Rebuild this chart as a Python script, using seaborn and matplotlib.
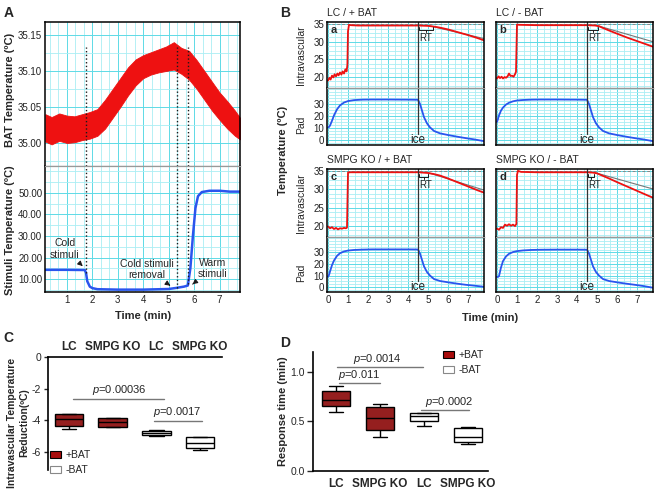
import numpy as np
import pandas as pd
import matplotlib
matplotlib.use('Agg')
import matplotlib.pyplot as plt
import seaborn as sns
from matplotlib.ticker import MultipleLocator, FormatStrFormatter
from matplotlib.patches import Patch

# ---------------- panel A: BAT temperature band and stimuli trace ----------------
bat_t = [0.15, 0.4, 0.7, 1.0, 1.3, 1.6, 1.9, 2.2, 2.5, 2.8, 3.1, 3.4, 3.7, 4.0,
         4.3, 4.6, 4.9, 5.2, 5.5, 5.8, 6.1, 6.4, 6.7, 7.0, 7.3, 7.6, 7.8]
bat_hi = [35.040, 35.036, 35.041, 35.038, 35.037, 35.040, 35.043, 35.047, 35.060,
          35.075, 35.090, 35.105, 35.116, 35.122, 35.126, 35.130, 35.134, 35.140,
          35.132, 35.128, 35.115, 35.100, 35.085, 35.070, 35.058, 35.045, 35.035]
bat_lo = [35.002, 34.998, 35.003, 35.000, 35.001, 35.004, 35.006, 35.010, 35.020,
          35.035, 35.050, 35.066, 35.080, 35.090, 35.095, 35.098, 35.100, 35.102,
          35.096, 35.088, 35.075, 35.060, 35.045, 35.032, 35.020, 35.010, 35.005]
stim_t = [0.15, 1.0, 1.7, 1.75, 1.8, 1.9, 2.0, 2.2, 3.0, 4.0, 5.0, 5.3, 5.6, 5.75,
          5.85, 5.95, 6.05, 6.15, 6.3, 6.6, 7.0, 7.4, 7.8]
stim_v = [14.3, 14.3, 14.2, 13.0, 9.0, 6.5, 5.8, 5.3, 5.1, 5.1, 5.4, 5.9, 6.5, 7.0,
          15.0, 30.0, 43.0, 48.5, 50.4, 51.0, 51.0, 50.6, 50.6]
event_t = [1.75, 5.32, 5.76]

# ---------------- panel B: intravascular (red) and pad (blue) traces ----------------
ice_t = 4.5
red_t_a = [0.0, 0.07, 0.13, 0.2, 0.27, 0.33, 0.4, 0.47, 0.53, 0.6, 0.67, 0.73, 0.8, 0.87,
           0.93, 0.97, 1.0, 1.05, 1.15, 1.5, 2.5, 3.5, 4.5, 5.0, 5.3, 5.6, 6.0, 6.5,
           7.0, 7.5, 7.8]
red_a = [19.0, 19.8, 19.3, 20.4, 19.9, 20.8, 20.2, 21.0, 20.5, 21.3, 20.7, 21.6, 21.0,
         22.2, 21.6, 23.5, 33.0, 34.8, 34.7, 34.6, 34.6, 34.6, 34.6, 34.5, 34.3, 34.0,
         33.5, 32.7, 31.9, 31.0, 30.4]
red_t_b = [0.0, 0.08, 0.15, 0.23, 0.3, 0.38, 0.45, 0.53, 0.6, 0.68, 0.75, 0.83, 0.9,
           0.95, 1.0, 1.1, 2.0, 3.0, 4.0, 4.5, 4.9, 5.1, 5.3, 5.6, 6.0, 6.5, 7.0, 7.5, 7.8]
red_b = [19.6, 20.2, 19.7, 20.1, 19.6, 20.0, 19.8, 20.2, 21.0, 20.3, 20.4, 20.1, 20.8,
         21.5, 34.9, 34.8, 34.7, 34.7, 34.7, 34.7, 34.6, 34.4, 33.9, 33.2, 32.3, 31.2,
         30.2, 29.2, 28.6]
red_t_c = [0.0, 0.1, 0.2, 0.3, 0.4, 0.5, 0.6, 0.7, 0.8, 0.9, 0.95, 1.0, 1.1, 2.0, 3.0,
           4.0, 4.5, 5.0, 5.3, 5.6, 6.0, 6.5, 7.0, 7.5, 7.8]
red_c = [19.8, 19.3, 19.6, 19.1, 19.4, 19.0, 19.3, 19.2, 19.4, 19.3, 19.5, 34.6, 34.7,
         34.7, 34.7, 34.7, 34.7, 34.5, 34.2, 33.8, 33.0, 31.9, 30.8, 29.7, 29.1]
red_t_d = [0.0, 0.1, 0.2, 0.3, 0.4, 0.5, 0.6, 0.7, 0.8, 0.9, 0.97, 1.0, 1.05, 1.2, 2.0,
           3.0, 4.0, 4.5, 4.8, 5.0, 5.3, 5.6, 6.0, 6.5, 7.0, 7.5, 7.8]
red_d = [19.2, 18.9, 19.6, 19.4, 20.3, 20.0, 20.4, 20.0, 20.3, 19.9, 20.5, 34.0, 35.1,
         34.8, 34.7, 34.7, 34.7, 34.7, 34.6, 34.4, 33.7, 33.0, 32.0, 30.8, 29.6, 28.4, 27.7]
gray_t0 = [5.0, 5.0, 5.0, 4.9]
gray_v0 = [34.6, 34.6, 34.6, 34.6]
gray_v1 = [30.9, 30.0, 29.8, 30.1]
rt_len = [0.73, 0.55, 0.5, 0.35]

pad_t = [0, 0.05, 0.1, 0.2, 0.3, 0.45, 0.6, 0.8, 1.0, 1.3, 1.7, 2.2, 3.0, 4.0, 4.5,
         4.6, 4.7, 4.8, 4.95, 5.1, 5.3, 5.6, 6.1, 6.5, 6.9, 7.3, 7.8]
pad_a = [10.5, 10.8, 12.0, 16.0, 20.5, 25.5, 28.8, 31.2, 32.4, 33.2, 33.6, 33.7, 33.7,
         33.6, 33.5, 30.0, 24.5, 19.0, 13.8, 10.5, 7.5, 5.5, 3.8, 2.6, 1.5, 0.5, -1.0]
pad_b = [15.0, 17.5, 20.5, 24.5, 27.0, 29.5, 31.0, 32.2, 32.9, 33.3, 33.6, 33.7, 33.7,
         33.6, 33.5, 30.0, 24.5, 19.0, 13.8, 10.5, 7.5, 5.5, 3.8, 2.6, 1.5, 0.5, -1.0]
pad_c = [9.0, 10.5, 13.5, 19.0, 23.0, 27.0, 29.3, 30.8, 31.6, 32.1, 32.4, 32.6, 32.6,
         32.6, 32.5, 29.0, 23.5, 18.0, 13.0, 10.0, 7.0, 5.3, 3.9, 2.9, 2.0, 1.3, 0.3]
pad_d = [8.8, 8.8, 9.5, 17.0, 22.5, 26.5, 28.8, 30.3, 31.1, 31.7, 32.1, 32.3, 32.4,
         32.4, 32.3, 29.0, 23.5, 18.0, 13.0, 10.0, 7.0, 5.3, 3.9, 2.9, 2.0, 1.0, -0.5]

# ---------------- panels C and D: box summaries (min, q1, median, q3, max) ----------------
group_ids = ['LC +BAT', 'SMPG KO +BAT', 'LC -BAT', 'SMPG KO -BAT']
group_labels = ['LC', 'SMPG KO', 'LC', 'SMPG KO']
group_bat = ['+BAT', '+BAT', '-BAT', '-BAT']
reduction = [[-4.56, -4.37, -3.92, -3.63, -3.60],
             [-4.45, -4.40, -4.13, -3.88, -3.85],
             [-4.97, -4.94, -4.79, -4.68, -4.60],
             [-5.89, -5.74, -5.46, -5.04, -5.04]]
response = [[0.60, 0.66, 0.72, 0.81, 0.86],
            [0.34, 0.41, 0.53, 0.65, 0.68],
            [0.45, 0.505, 0.555, 0.58, 0.58],
            [0.275, 0.29, 0.34, 0.43, 0.44]]

RED = '#ee1111'
BLUE = '#2a55ee'
BOX_RED = '#a80c0c'
GRID_MAJ = '#5fdae6'
GRID_MIN = '#aaeef4'
DIV = '#999999'

sns.set_theme(style='white')
plt.rcParams['font.family'] = ['Liberation Sans', 'DejaVu Sans']
plt.rcParams['mathtext.fontset'] = 'custom'
plt.rcParams['mathtext.it'] = 'Liberation Sans:italic'
plt.rcParams['mathtext.rm'] = 'Liberation Sans'

W, H = 660, 497
fig = plt.figure(figsize=(6.6, 4.97), dpi=100)


def px_axes(x0, y0, x1, y1):
    return fig.add_axes([x0 / W, 1 - y1 / H, (x1 - x0) / W, (y1 - y0) / H])


def ftext(x, y, s, **kw):
    fig.text(x / W, 1 - y / H, s, **kw)


def trace_style(ax, xstep, ystep, top=True):
    ax.xaxis.set_minor_locator(MultipleLocator(xstep))
    ax.yaxis.set_minor_locator(MultipleLocator(ystep))
    ax.grid(True, which='minor', color=GRID_MIN, lw=0.6)
    ax.grid(True, which='major', color=GRID_MAJ, lw=0.7)
    ax.set_axisbelow(True)
    ax.tick_params(which='both', length=0, labelsize=7, pad=2, colors='#222222')
    for s in ax.spines.values():
        s.set_color('black')
        s.set_linewidth(1.1)
    ax.spines['bottom' if top else 'top'].set_color(DIV)
    ax.spines['bottom' if top else 'top'].set_linewidth(0.9)
    ax.set_xlabel('')
    ax.set_ylabel('')


# ---------------- A ----------------
axA1 = px_axes(45, 22, 240, 166)
axA1.fill_between(bat_t, bat_lo, bat_hi, color=RED, lw=0.6, edgecolor=RED)
axA1.vlines(event_t, 34.968, 35.133, color='k', ls=':', lw=1)
axA1.set_xlim(0.14, 7.8)
axA1.set_ylim(34.968, 35.168)
axA1.set_yticks([35.00, 35.05, 35.10, 35.15])
axA1.yaxis.set_major_formatter(FormatStrFormatter('%.2f'))
axA1.set_xticks(range(1, 8))
trace_style(axA1, 1 / 3, 0.025, top=True)
axA1.tick_params(labelbottom=False)

axA2 = px_axes(45, 166, 240, 292)
sns.lineplot(x=stim_t, y=stim_v, ax=axA2, color=BLUE, lw=1.8, estimator=None, sort=False)
axA2.vlines(event_t, np.interp(event_t, stim_t, stim_v), 62.5, color='k', ls=':', lw=1)
axA2.set_xlim(0.14, 7.8)
axA2.set_ylim(4, 62.5)
axA2.set_yticks([10, 20, 30, 40, 50])
axA2.yaxis.set_major_formatter(FormatStrFormatter('%.2f'))
axA2.set_xticks(range(1, 8))
trace_style(axA2, 1 / 3, 5, top=False)

arrow = dict(arrowstyle='-|>', color='k', lw=0.8, mutation_scale=7)
axA2.annotate('Cold\nstimuli', xy=(1.62, 16.0), xytext=(0.92, 24.0), ha='center',
              va='center', fontsize=7.5, arrowprops=arrow)
axA2.annotate('Cold stimuli\nremoval', xy=(5.15, 6.2), xytext=(4.15, 14.5), ha='center',
              va='center', fontsize=7.5, arrowprops=arrow)
axA2.annotate('Warm\nstimuli', xy=(5.85, 6.8), xytext=(6.72, 15.0), ha='center',
              va='center', fontsize=7.5, arrowprops=arrow)

ftext(4, 6, 'A', fontsize=10, fontweight='bold', va='top')
ftext(10, 90, 'BAT Temperature (ºC)', rotation=90, fontsize=8, fontweight='bold',
      ha='center', va='center')
ftext(10, 230, 'Stimuli Temperature (ºC)', rotation=90, fontsize=8, fontweight='bold',
      ha='center', va='center')
ftext(143, 316, 'Time (min)', fontsize=8, fontweight='bold', ha='center', va='center')

# ---------------- B ----------------
b_layout = [('a', 'LC / + BAT', 327, 484, 22, 88, 145, red_t_a, red_a, pad_a),
            ('b', 'LC / - BAT', 496, 653, 22, 88, 145, red_t_b, red_b, pad_b),
            ('c', 'SMPG KO / + BAT', 327, 484, 169, 237, 292, red_t_c, red_c, pad_c),
            ('d', 'SMPG KO / - BAT', 496, 653, 169, 237, 292, red_t_d, red_d, pad_d)]

for i, (tag, title, x0, x1, y0, ym, y1, rt_t, rv, pv) in enumerate(b_layout):
    axT = px_axes(x0, y0, x1, ym)
    axB = px_axes(x0, ym, x1, y1)
    axT.axhline(34.95, color='#888888', ls=(0, (3, 2)), lw=0.7)
    axT.plot([gray_t0[i], 7.8], [gray_v0[i], gray_v1[i]], color='#777777', lw=0.8)
    sns.lineplot(x=rt_t, y=rv, ax=axT, color=RED, lw=1.3, estimator=None, sort=False)
    axT.axvline(ice_t, color='#333333', lw=0.9)
    # RT brace below the trace, spanning the response time
    L = rt_len[i]
    axT.plot([ice_t + 0.04, ice_t + 0.04, ice_t + L, ice_t + L], [34.2, 33.4, 33.4, 34.2],
             color='k', lw=0.7)
    axT.plot([ice_t + 0.04 + L / 2] * 2, [33.4, 32.9], color='k', lw=0.7)
    axT.text(ice_t + 0.05, 32.6, 'RT', fontsize=7, va='top', ha='left')
    axT.text(0.02, 0.95, tag, transform=axT.transAxes, fontsize=8, fontweight='bold', va='top')
    axT.set_xlim(-0.05, 7.8)
    axT.set_ylim(16.9, 35.6)
    axT.set_yticks([20, 25, 30, 35])
    axT.set_xticks(range(0, 8))
    trace_style(axT, 1 / 3, 1.25, top=True)
    axT.tick_params(labelbottom=False, labelleft=(tag in 'ac'))

    sns.lineplot(x=pad_t, y=pv, ax=axB, color=BLUE, lw=1.3, estimator=None, sort=False)
    axB.axvline(ice_t, ymin=0.2, color='#333333', lw=0.9)
    axB.text(ice_t, 0, 'ice', fontsize=8.5, ha='center', va='center')
    axB.set_xlim(-0.05, 7.8)
    axB.set_ylim(-4.2, 43.3)
    axB.set_yticks([0, 10, 20, 30])
    axB.set_xticks(range(0, 8))
    trace_style(axB, 1 / 3, 2.5, top=False)
    axB.tick_params(labelbottom=(tag in 'cd'), labelleft=(tag in 'ac'))

    ftext(x0, y0 - 4, title, fontsize=7.5, ha='left', va='bottom')
    if tag in 'ac':
        ftext(301, (y0 + ym) / 2, 'Intravascular', rotation=90, fontsize=7.5,
              ha='center', va='center')
        ftext(301, (ym + y1) / 2 + 8, 'Pad', rotation=90, fontsize=7.5,
              ha='center', va='center')

ftext(280, 6, 'B', fontsize=10, fontweight='bold', va='top')
ftext(283, 150, 'Temperature (ºC)', rotation=90, fontsize=8, fontweight='bold',
      ha='center', va='center')
ftext(490, 318, 'Time (min)', fontsize=8, fontweight='bold', ha='center', va='center')

# ---------------- C and D ----------------
box_pal = {'+BAT': BOX_RED, '-BAT': 'white'}


def box_frame(values):
    return pd.DataFrame({
        'group': np.repeat(group_ids, 5),
        'bat': np.repeat(group_bat, 5),
        'value': np.concatenate(values),
    })


def draw_boxes(ax, df):
    sns.boxplot(data=df, x='group', y='value', hue='bat', order=group_ids,
                hue_order=['+BAT', '-BAT'], palette=box_pal, dodge=False, whis=(0, 100),
                width=0.65, linecolor='black', linewidth=1, legend=False, ax=ax)
    ax.set_xlabel('')
    ax.set_ylabel('')
    ax.spines['right'].set_visible(False)
    for s in ax.spines.values():
        s.set_color('black')
        s.set_linewidth(1.2)


def pline(ax, xa, xb, y, text, xt, yt):
    ax.plot([xa, xb], [y, y], color='#777777', lw=1)
    ax.text(xt, yt, text, fontsize=8, ha='center', va='bottom')


legend_handles = [Patch(facecolor=BOX_RED, edgecolor='black', lw=0.8),
                  Patch(facecolor='white', edgecolor='#888888', lw=0.8)]

axC = px_axes(48, 357, 222, 470)
draw_boxes(axC, box_frame(reduction))
axC.spines['bottom'].set_visible(False)
axC.set_xlim(-0.48, 3.5)
axC.set_ylim(-7.15, 0)
axC.xaxis.tick_top()
axC.set_xticks(range(4))
axC.set_xticklabels(group_labels, fontweight='bold', fontsize=8.5)
axC.set_yticks([0, -2, -4, -6])
axC.set_yticklabels(['0', '-2', '-4', '-6'])
axC.tick_params(axis='x', length=0, pad=3)
axC.tick_params(axis='y', length=3, width=1, pad=2, labelsize=7.5, left=True)
pline(axC, 0.09, 2.18, -2.65, r'$\it{p}$=0.00036', 1.16, -2.55)
pline(axC, 1.95, 3.05, -4.05, r'$\it{p}$=0.0017', 2.48, -3.95)
fig.legend(legend_handles, ['+BAT', '-BAT'], loc='upper left',
           bbox_to_anchor=(50 / W, 1 - 450 / H), frameon=False, fontsize=7.5,
           handlelength=1.1, handleheight=0.7, handletextpad=0.4, labelspacing=0.5,
           borderaxespad=0, borderpad=0)
ftext(3, 331, 'C', fontsize=10, fontweight='bold', va='top')
ftext(18, 423, 'Intravascular Temperature\nReduction(ºC)', rotation=90, fontsize=7.5,
      fontweight='bold', ha='center', va='center', multialignment='center',
      linespacing=1.3)

axD = px_axes(313, 352, 488, 471)
draw_boxes(axD, box_frame(response))
axD.spines['top'].set_visible(False)
axD.set_xlim(-0.52, 3.45)
axD.set_ylim(0, 1.2)
axD.set_xticks(range(4))
axD.set_xticklabels(group_labels, fontweight='bold', fontsize=8.5)
axD.set_yticks([0.0, 0.5, 1.0])
axD.set_yticklabels(['0.0', '0.5', '1.0'])
axD.tick_params(axis='x', length=0, pad=5)
axD.tick_params(axis='y', length=4, width=1, pad=2, labelsize=7.5, left=True)
pline(axD, 0.02, 1.98, 1.047, r'$\it{p}$=0.0014', 0.93, 1.057)
pline(axD, 0.07, 1.0, 0.886, r'$\it{p}$=0.011', 0.52, 0.896)
pline(axD, 1.93, 3.02, 0.62, r'$\it{p}$=0.0002', 2.57, 0.63)
fig.legend(legend_handles, ['+BAT', '-BAT'], loc='upper left',
           bbox_to_anchor=(443 / W, 1 - 350 / H), frameon=False, fontsize=7.5,
           handlelength=1.1, handleheight=0.7, handletextpad=0.4, labelspacing=0.5,
           borderaxespad=0, borderpad=0)
ftext(280, 336, 'D', fontsize=10, fontweight='bold', va='top')
ftext(283, 411, 'Response time (min)', rotation=90, fontsize=8, fontweight='bold',
      ha='center', va='center')

fig.savefig('out.png', dpi=100)
